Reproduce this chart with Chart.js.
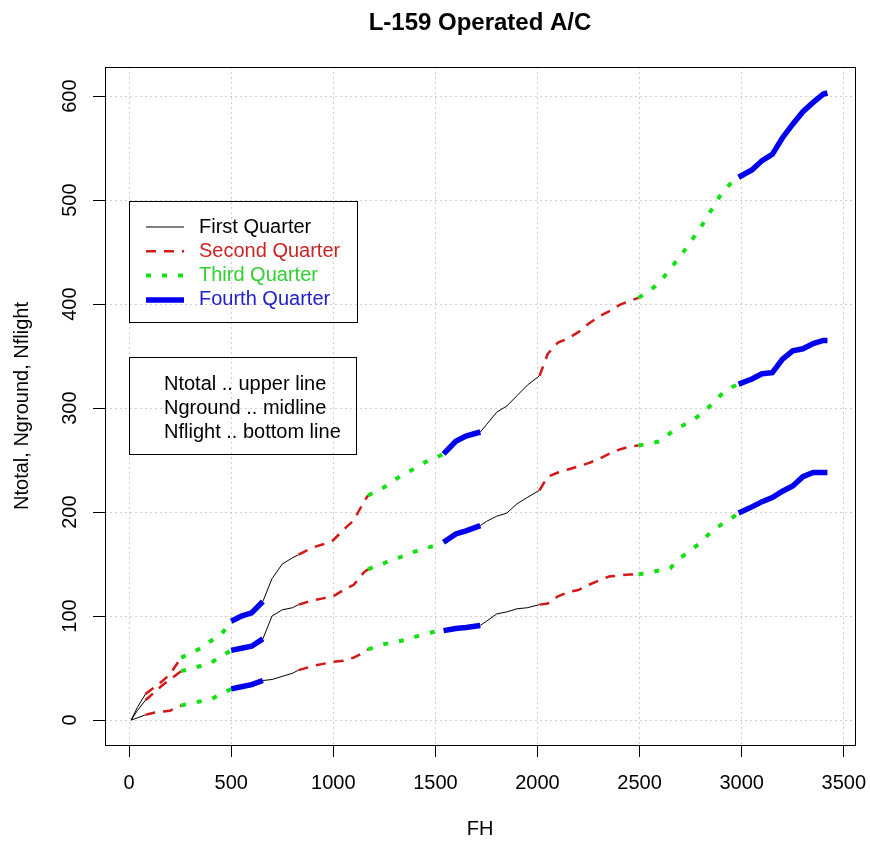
<!DOCTYPE html>
<html>
<head>
<meta charset="utf-8">
<script src="https://cdn.jsdelivr.net/npm/chart.js@4/dist/chart.umd.min.js"></script>
<style>
  body { margin: 0; background: #fff; }
  #wrap { width: 870px; height: 844px; }
</style>
</head>
<body>
<div id="wrap"><canvas id="chart" width="870" height="844"></canvas></div>
<script>
// flight hours (x) and the three cumulative counts
const fh = [10, 40, 80, 120, 160, 200, 255, 300, 350, 400, 450, 500, 550, 600, 655, 700, 750, 800, 830,
  900, 950, 1000, 1050, 1100, 1150, 1170, 1250, 1300, 1350, 1400, 1450, 1500, 1540, 1600, 1650, 1720,
  1750, 1800, 1850, 1900, 1950, 2010, 2050, 2100, 2150, 2200, 2250, 2300, 2350, 2400, 2450, 2495,
  2550, 2600, 2650, 2700, 2750, 2800, 2850, 2900, 2950, 2985, 3050, 3100, 3150, 3200, 3250, 3300,
  3350, 3400, 3420];

const ntotal = [0, 12, 25, 31, 37, 44, 60, 64, 69, 76, 82, 95, 100, 103, 114, 136, 150, 156, 159,
  166, 169, 173, 183, 192, 210, 216, 224, 231, 237, 242, 248, 252, 256, 268, 273, 277,
  284, 296, 302, 312, 322, 331, 352, 363, 367, 373, 381, 388, 393, 399, 403, 406,
  413, 421, 434, 446, 460, 474, 490, 506, 517, 522, 529, 538, 544, 560, 573, 585,
  594, 602, 603];

const nground = [0, 9, 19, 26, 33, 39, 47, 49, 52, 55, 61, 67, 69, 71, 78, 100, 106, 108, 111,
  115, 117, 119, 125, 130, 142, 145, 151, 155, 158, 162, 165, 168, 171, 179, 182, 187,
  191, 196, 199, 208, 214, 221, 234, 238, 241, 244, 247, 251, 256, 260, 263, 264,
  266, 268, 276, 282, 287, 294, 303, 313, 320, 323, 328, 333, 334, 347, 355, 357,
  362, 365, 365];

const nflight = [0, 2, 5, 7, 8, 9, 14, 16, 18, 20, 25, 30, 32, 34, 38, 39, 42, 45, 48,
  52, 54, 56, 57, 60, 65, 68, 73, 75, 77, 80, 83, 85, 86, 88, 89, 91,
  95, 102, 104, 107, 108, 111, 112, 119, 123, 125, 130, 134, 138, 139, 140, 140,
  142, 144, 146, 156, 163, 171, 181, 188, 194, 199, 205, 210, 214, 220, 225, 234,
  238, 238, 238];

// FH where the quarter changes (starts in the first quarter)
const quarterBreaks = [80, 255, 500, 655, 830, 1170, 1540, 1720, 2010, 2495, 2985];
const quarterNames = ["First Quarter", "Second Quarter", "Third Quarter", "Fourth Quarter"];
const noteLines = ["Ntotal .. upper line", "Nground .. midline", "Nflight .. bottom line"];

const xTicks = [0, 500, 1000, 1500, 2000, 2500, 3000, 3500];
const yTicks = [0, 100, 200, 300, 400, 500, 600];

const qStyle = [
  { color: "#000000", dash: [], width: 1, text: "#000000" },
  { color: "#d41818", dash: [10, 8], width: 2.5, text: "#cc2424" },
  { color: "#14e014", dash: [5, 11], width: 4, text: "#30d030" },
  { color: "#0000ee", dash: [], width: 5.5, text: "#2020cc" },
];

function quarterAt(x) {
  let n = 0;
  quarterBreaks.forEach((b) => { if (x >= b) n++; });
  return n % 4;
}
const seg = (key) => (ctx) => qStyle[quarterAt(ctx.p0.parsed.x)][key];

function makeSet(label, vals) {
  return {
    label,
    data: fh.map((x, i) => ({ x, y: vals[i] })),
    pointRadius: 0,
    borderColor: "#000",
    borderWidth: 1,
    borderCapStyle: "butt",
    tension: 0,
    segment: { borderColor: seg("color"), borderDash: seg("dash"), borderWidth: seg("width") },
  };
}

const font = '"Liberation Sans", Arial, sans-serif';

// box, title and the two legend boxes in R style
const decor = {
  id: "decor",
  afterDraw(chart) {
    const { ctx, chartArea: a } = chart;
    ctx.save();
    ctx.strokeStyle = "#000";
    ctx.lineWidth = 1;
    ctx.setLineDash([]);
    ctx.strokeRect(a.left + 0.5, a.top + 0.5, a.right - a.left, a.bottom - a.top);

    ctx.fillStyle = "#000";
    ctx.font = "bold 24px " + font;
    ctx.textAlign = "center";
    ctx.textBaseline = "middle";
    ctx.fillText("L-159 Operated A/C", (a.left + a.right) / 2, 23);

    // quarter legend
    const lx = a.left + 24, ly = a.top + 134;
    ctx.strokeRect(lx + 0.5, ly + 0.5, 228, 121);
    ctx.font = "20px " + font;
    ctx.textAlign = "left";
    quarterNames.forEach((name, i) => {
      const y = ly + 26 + i * 24.3;
      const s = qStyle[i];
      ctx.beginPath();
      ctx.strokeStyle = s.color;
      ctx.lineWidth = s.width;
      ctx.setLineDash(s.dash);
      ctx.moveTo(lx + 17, y);
      ctx.lineTo(lx + 55, y);
      ctx.stroke();
      ctx.fillStyle = s.text;
      ctx.fillText(name, lx + 70, y);
    });

    // which line is which
    ctx.setLineDash([]);
    ctx.strokeStyle = "#000";
    ctx.lineWidth = 1;
    const nx = a.left + 24, ny = a.top + 290;
    ctx.strokeRect(nx + 0.5, ny + 0.5, 227, 97);
    ctx.fillStyle = "#000";
    noteLines.forEach((t, i) => ctx.fillText(t, nx + 35, ny + 27 + i * 24));
    ctx.restore();
  },
};

const gridStyle = {
  color: "#cfcfcf",
  tickColor: "#000",
  tickBorderDash: [],
  tickLength: 12,
  drawTicks: true,
};

new Chart(document.getElementById("chart"), {
  type: "line",
  data: { datasets: [makeSet("Ntotal", ntotal), makeSet("Nground", nground), makeSet("Nflight", nflight)] },
  options: {
    responsive: false,
    animation: false,
    layout: { padding: { top: 67, right: 15, left: 0, bottom: 0 } },
    plugins: { legend: { display: false }, tooltip: { enabled: false } },
    scales: {
      x: {
        type: "linear",
        min: -118,
        max: 3555,
        afterBuildTicks: (s) => { s.ticks = xTicks.map((v) => ({ value: v })); },
        afterFit: (s) => { s.height = 99; s.paddingLeft = 0; s.paddingRight = 0; },
        grid: gridStyle,
        border: { display: false, dash: [2, 3] },
        ticks: { color: "#000", font: { family: font, size: 20 }, padding: 14, maxRotation: 0, autoSkip: false, callback: (v) => String(v) },
        title: { display: true, text: "FH", color: "#000", font: { family: font, size: 20 }, padding: { top: 0, bottom: 3 } },
      },
      y: {
        min: -24,
        max: 628,
        afterBuildTicks: (s) => { s.ticks = yTicks.map((v) => ({ value: v })); },
        afterFit: (s) => { s.width = 105; s.paddingTop = 0; s.paddingBottom = 0; },
        grid: gridStyle,
        border: { display: false, dash: [2, 3] },
        ticks: { color: "#000", font: { family: font, size: 20 }, padding: 6, minRotation: 90, maxRotation: 90, crossAlign: "center", autoSkip: false, callback: (v) => String(v) },
        title: { display: true, text: "Ntotal, Nground, Nflight", color: "#000", font: { family: font, size: 20 }, padding: { top: 10, bottom: 0 } },
      },
    },
  },
  plugins: [decor],
});
</script>
</body>
</html>
